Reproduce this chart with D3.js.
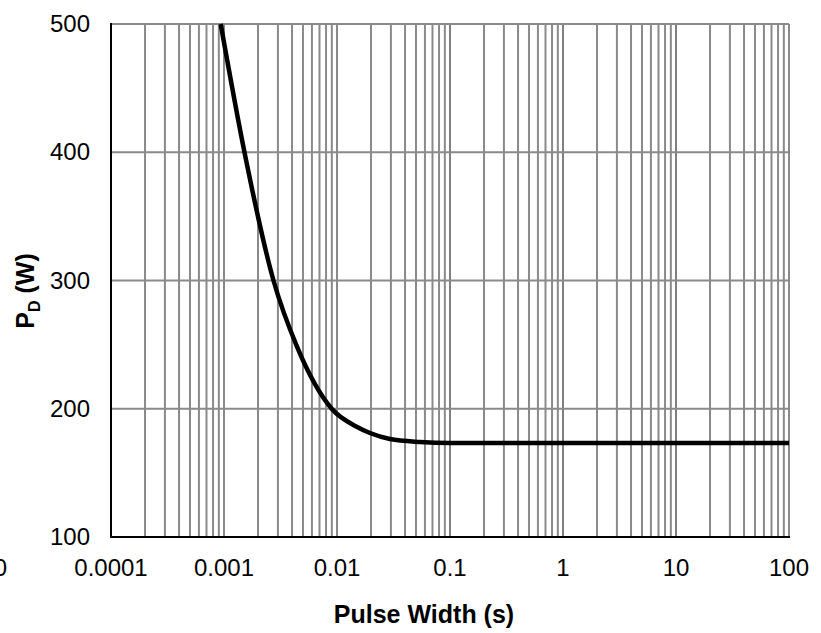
<!DOCTYPE html>
<html>
<head>
<meta charset="utf-8">
<title>Pulse power</title>
<script src="https://d3js.org/d3.v7.min.js"></script>
<style>
  body { margin: 0; background: #fff; }
  text { font-family: "Liberation Sans", Arial, sans-serif; fill: #000; }
</style>
</head>
<body>
<script>
	// values
	var xTicks     = [0.0001, 0.001, 0.01, 0.1, 1, 10, 100];
	var xTickNames = ["0.0001", "0.001", "0.01", "0.1", "1", "10", "100"];
	var yTicks     = [100, 200, 300, 400, 500];
	var pulseWidth = [0.000935, 0.001518, 0.002742, 0.004426, 0.008977, 0.01494, 0.01959, 0.02944, 0.05426, 0.1, 1, 10, 100];
	var power      = [500, 400, 300, 248.4, 200, 186, 181.1, 176.4, 174.1, 173.3, 173.2, 173.2, 173.2];

	var width  = 821;
	var height = 633;
	var plotLeft = 111, plotRight = 789, plotTop = 24, plotBottom = 537;
	var gridColour = "#8a8a8a";

	var xScale = d3.scaleLog().domain([0.0001, 100]).range([plotLeft, plotRight]);
	var yScale = d3.scaleLinear().domain([100, 500]).range([plotBottom, plotTop]);

	var svg = d3.select("body").append("svg")
		.attr("width", width)
		.attr("height", height);

	// minor vertical grid: 2..9 in every decade
	var minor = [];
	for (var i = 0; i < xTicks.length - 1; i++) {
		for (var m = 2; m <= 9; m++) minor.push(xTicks[i] * m);
	}
	svg.append("g").selectAll("line").data(minor).enter().append("line")
		.attr("x1", d => xScale(d)).attr("x2", d => xScale(d))
		.attr("y1", plotTop).attr("y2", plotBottom)
		.attr("stroke", gridColour).attr("stroke-width", 2);

	// decade lines: the first two are grey, later ones thin black
	svg.append("g").selectAll("line").data(xTicks.slice(1, -1)).enter().append("line")
		.attr("x1", d => xScale(d)).attr("x2", d => xScale(d))
		.attr("y1", plotTop).attr("y2", plotBottom)
		.attr("stroke", d => d < 0.1 ? gridColour : "#000")
		.attr("stroke-width", d => d < 0.1 ? 2 : 1);

	// horizontal grid
	svg.append("g").selectAll("line").data(yTicks.slice(1)).enter().append("line")
		.attr("x1", plotLeft).attr("x2", plotRight)
		.attr("y1", d => yScale(d)).attr("y2", d => yScale(d))
		.attr("stroke", gridColour).attr("stroke-width", 2);

	// right border
	svg.append("line")
		.attr("x1", plotRight).attr("x2", plotRight).attr("y1", plotTop).attr("y2", plotBottom)
		.attr("stroke", gridColour).attr("stroke-width", 2);

	// axes
	svg.append("line").attr("x1", plotLeft).attr("x2", plotLeft).attr("y1", plotTop - 1).attr("y2", plotBottom + 1)
		.attr("stroke", "#000").attr("stroke-width", 2);
	svg.append("line").attr("x1", plotLeft - 1).attr("x2", plotRight + 1).attr("y1", plotBottom).attr("y2", plotBottom)
		.attr("stroke", "#000").attr("stroke-width", 2);

	// curve
	var line = d3.line()
		.x(d => xScale(d[0]))
		.y(d => yScale(d[1]))
		.curve(d3.curveMonotoneX);
	svg.append("path")
		.datum(d3.zip(pulseWidth, power))
		.attr("d", line)
		.attr("fill", "none")
		.attr("stroke", "#000")
		.attr("stroke-width", 4.5);

	// tick labels
	svg.append("g").selectAll("text").data(yTicks).enter().append("text")
		.attr("x", 90).attr("y", d => yScale(d) + 8)
		.attr("text-anchor", "end").attr("font-size", 24)
		.text(d => d);

	svg.append("g").selectAll("text").data(xTicks).enter().append("text")
		.attr("x", d => xScale(d)).attr("y", 576)
		.attr("text-anchor", "middle").attr("font-size", 24)
		.text((d, i) => xTickNames[i]);

	// stray clipped label at the far left
	svg.append("text").attr("x", 7).attr("y", 576)
		.attr("text-anchor", "end").attr("font-size", 24).text("0");

	// axis titles
	svg.append("text")
		.attr("x", 424).attr("y", 623)
		.attr("text-anchor", "middle").attr("font-size", 25).attr("font-weight", "bold")
		.text("Pulse Width (s)");

	var yTitle = svg.append("text")
		.attr("transform", "translate(34,291) rotate(-90)")
		.attr("text-anchor", "middle").attr("font-size", 25).attr("font-weight", "bold");
	yTitle.append("tspan").text("P");
	yTitle.append("tspan").attr("font-size", 16).attr("dy", 6).text("D");
	yTitle.append("tspan").attr("dy", -6).text(" (W)");
</script>
</body>
</html>
